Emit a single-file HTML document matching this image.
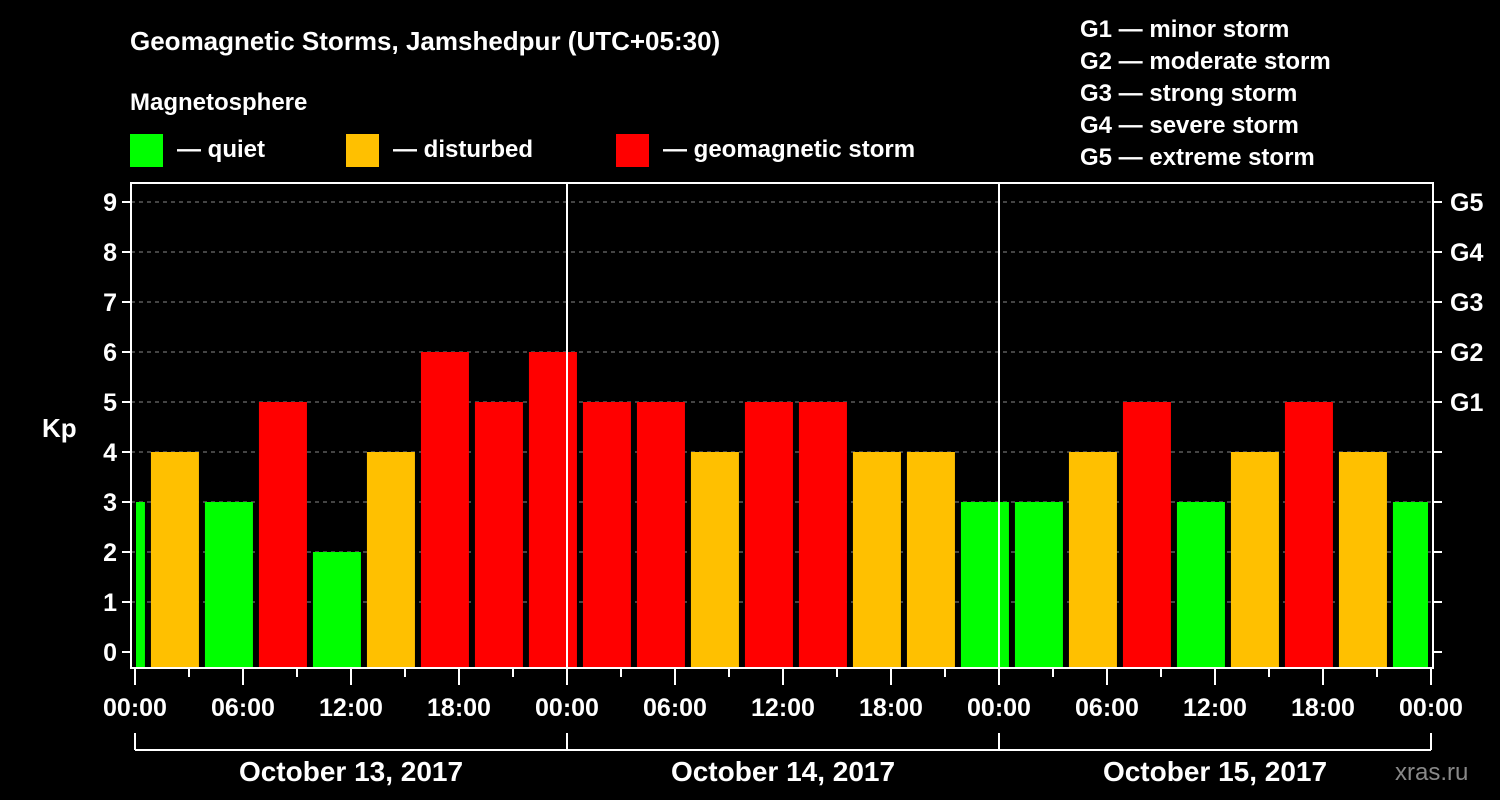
<!DOCTYPE html>
<html><head><meta charset="utf-8"><style>
body{margin:0;background:#000;width:1500px;height:800px;overflow:hidden}
svg{display:block;font-family:"Liberation Sans",Arial,sans-serif;font-weight:bold}
</style></head><body>
<svg id="c" width="1500" height="800">
<text x="130" y="50" fill="#fff" font-size="26">Geomagnetic Storms, Jamshedpur (UTC+05:30)</text>
<text x="130" y="110" fill="#fff" font-size="24">Magnetosphere</text>
<g><rect x="130" y="134" width="33" height="33" fill="#00ff00"/><text x="177" y="157" fill="#fff" font-size="24">— quiet</text></g>
<g><rect x="346" y="134" width="33" height="33" fill="#ffc000"/><text x="393" y="157" fill="#fff" font-size="24">— disturbed</text></g>
<g><rect x="616" y="134" width="33" height="33" fill="#ff0000"/><text x="663" y="157" fill="#fff" font-size="24">— geomagnetic storm</text></g>
<g fill="#fff" font-size="24">
<text x="1080" y="37">G1 — minor storm</text><text x="1080" y="69">G2 — moderate storm</text><text x="1080" y="101">G3 — strong storm</text><text x="1080" y="133">G4 — severe storm</text><text x="1080" y="165">G5 — extreme storm</text></g>
<text x="42" y="437" fill="#fff" font-size="26">Kp</text>
<text x="1395" y="780" fill="#888" font-size="24" font-weight="normal">xras.ru</text>
<g id="grid"></g><g id="bars"></g><g id="axes"></g>
</svg>
<script>
const kpValues=[3,4,3,5,2,4,6,5,6,5,5,4,5,5,4,4,3,3,4,5,3,4,5,4,3];
const dayLabels=["October 13, 2017","October 14, 2017","October 15, 2017"];
const hourLabels=["00:00","06:00","12:00","18:00"];
const gLabels=["G1","G2","G3","G4","G5"];
const NS="http://www.w3.org/2000/svg";
const L=131,R=1433,T=183,B=668,x0=135,pxH=18;
const y=v=>652-v*50;
const x=h=>x0+h*pxH;
function mk(p,tag,a){const e=document.createElementNS(NS,tag);for(const k in a)e.setAttribute(k,a[k]);p.appendChild(e);return e;}
const grid=document.getElementById('grid'),bars=document.getElementById('bars'),axes=document.getElementById('axes');
for(let v=1;v<=9;v++){const g=mk(grid,'line',{x1:L,x2:R,y1:y(v),y2:y(v),stroke:'#888','stroke-dasharray':'4 4'});

}
kpValues.forEach((v,i)=>{
 let a=x(i*3-2.17)+1,b=a+48;a=Math.max(a,L+5);b=Math.min(b,R-5);
 const col=v>=5?'#ff0000':v==4?'#ffc000':'#00ff00';
 const r=mk(bars,'rect',{x:a,y:y(v),width:b-a,height:B-y(v),fill:col});
 
 
});
for(let d=1;d<3;d++){const l=mk(axes,'line',{x1:x(d*24),x2:x(d*24),y1:T,y2:B,stroke:'#fff','stroke-width':2});

}
const fr=mk(axes,'rect',{x:L,y:T,width:R-L,height:B-T,fill:'none',stroke:'#fff','stroke-width':2});


for(let v=0;v<=9;v++){
 mk(axes,'line',{x1:L-9,x2:L,y1:y(v),y2:y(v),stroke:'#fff','stroke-width':2});
 mk(axes,'line',{x1:R,x2:R+9,y1:y(v),y2:y(v),stroke:'#fff','stroke-width':2});
 const t=mk(axes,'text',{x:L-14,y:y(v)+9,fill:'#fff','font-size':25,'text-anchor':'end'});t.textContent=v;
 
 
 if(v>=5){const g=mk(axes,'text',{x:1450,y:y(v)+9,fill:'#fff','font-size':25});g.textContent=gLabels[v-5];
 
 }
}
for(let h=0;h<=72;h+=3){const maj=h%6==0;
 mk(axes,'line',{x1:x(h),x2:x(h),y1:B,y2:B+(maj?17:9),stroke:'#fff','stroke-width':2});
 if(maj){const t=mk(axes,'text',{x:x(h),y:716,fill:'#fff','font-size':25,'text-anchor':'middle'});t.textContent=hourLabels[(h/6)%4];
 
 }}
mk(axes,'line',{x1:x(0),x2:x(72),y1:750,y2:750,stroke:'#fff','stroke-width':2});
for(let d=0;d<=3;d++)mk(axes,'line',{x1:x(d*24),x2:x(d*24),y1:733,y2:750,stroke:'#fff','stroke-width':2});
dayLabels.forEach((s,d)=>{const t=mk(axes,'text',{x:x(d*24+12),y:781,fill:'#fff','font-size':28,'text-anchor':'middle'});t.textContent=s;

});
</script>
</body></html>
